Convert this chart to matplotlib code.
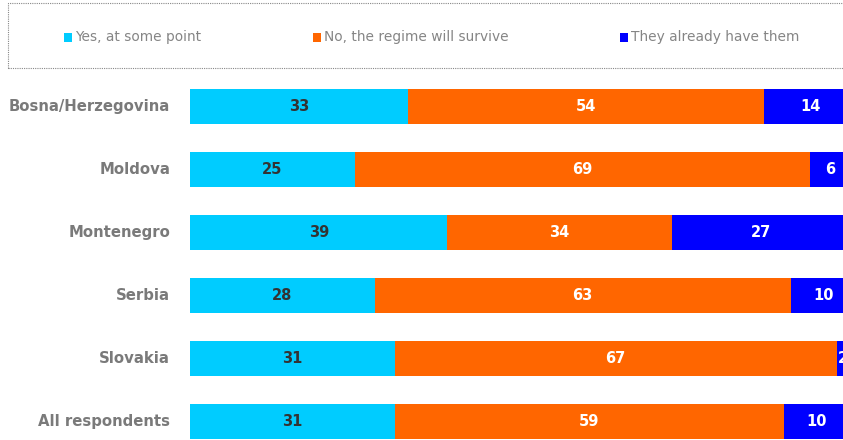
import matplotlib.pyplot as plt
from matplotlib.patches import Rectangle

W, H = 843, 440

countries = ["Bosna/Herzegovina", "Moldova", "Montenegro", "Serbia", "Slovakia", "All respondents"]
yes_some_point = [33, 25, 39, 28, 31, 31]
no_survive = [54, 69, 34, 63, 67, 59]
already_have = [14, 6, 27, 10, 2, 10]

series_names = ["Yes, at some point", "No, the regime will survive", "They already have them"]
colors = ["#00CCFF", "#FF6600", "#0000FF"]
text_colors = ["#333333", "white", "white"]

plt.rcParams["font.family"] = ["DejaVu Sans"]

fig = plt.figure(figsize=(W / 100, H / 100), dpi=100)


def px(x0, y0, w, h):
    # pixel box (top-left origin) -> figure fraction
    return [x0 / W, 1 - (y0 + h) / H, w / W, h / H]


# axes: 100 units = 660 px starting at x=190, rows every 63 px
ax = fig.add_axes(px(190, 75, 660, 378))
ax.set_xlim(0, 100)
ax.set_ylim(5.5, -0.5)
ax.axis("off")

ypos = list(range(len(countries)))
left = [0] * len(countries)
for vals, col, tcol in zip([yes_some_point, no_survive, already_have], colors, text_colors):
    ax.barh(ypos, vals, left=left, height=0.54, color=col, edgecolor="none")
    for y, v, l in zip(ypos, vals, left):
        ax.text(l + v / 2, y, str(v), ha="center", va="center", fontsize=10.5,
                fontweight="bold", color=tcol, clip_on=False)
    left = [a + b for a, b in zip(left, vals)]

for y, name in zip(ypos, countries):
    ax.text(-3, y, name, ha="right", va="center", fontsize=10.7, fontweight="bold",
            color="#7a7a7a", clip_on=False)

# legend box
box = Rectangle((8 / W, 1 - 68 / H), 840 / W, 65 / H, transform=fig.transFigure,
                fill=False, edgecolor="#888888", linestyle=(0, (1, 1)), linewidth=0.8)
fig.add_artist(box)
leg_x = [64, 313, 620]
for x, name, col in zip(leg_x, series_names, colors):
    fig.add_artist(Rectangle((x / W, 1 - 42 / H), 8 / W, 9 / H, transform=fig.transFigure,
                             facecolor=col, edgecolor="none"))
    fig.text((x + 11) / W, 1 - 37 / H, name, ha="left", va="center", fontsize=9.9,
             color="#858585")

fig.savefig("out.png", dpi=100)
